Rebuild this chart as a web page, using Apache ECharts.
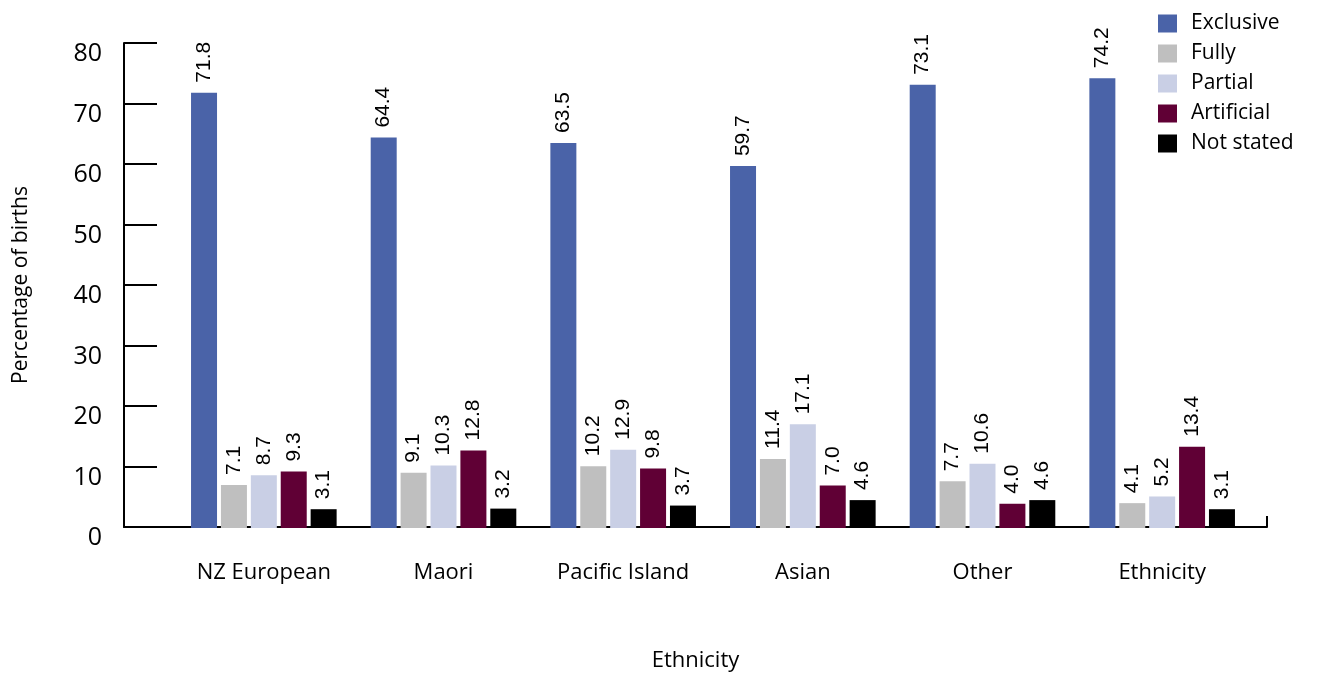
<!DOCTYPE html>
<html>
<head>
<meta charset="utf-8">
<title>Breastfeeding status by ethnicity</title>
<script src="https://cdn.jsdelivr.net/npm/echarts@6/dist/echarts.min.js"></script>
<style>
  html, body { margin: 0; padding: 0; background: #ffffff; }
  #chart { width: 1317px; height: 677px; }
</style>
</head>
<body>
<div id="chart"></div>
<script>
// Ethnic groups along the horizontal axis
const categories = ['NZ European', 'Maori', 'Pacific Island', 'Asian', 'Other', 'Ethnicity'];

// Percentage of births per feeding status
const exclusive  = [71.8, 64.4, 63.5, 59.7, 73.1, 74.2];
const fully      = [7.1, 9.1, 10.2, 11.4, 7.7, 4.1];
const partial    = [8.7, 10.3, 12.9, 17.1, 10.6, 5.2];
const artificial = [9.3, 12.8, 9.8, 7.0, 4.0, 13.4];
const notStated  = [3.1, 3.2, 3.7, 4.6, 4.6, 3.1];

const seriesNames = ['Exclusive', 'Fully', 'Partial', 'Artificial', 'Not stated'];
const seriesColors = ['#4a63a8', '#bfbfbf', '#c9cfe5', '#600035', '#000000'];
const seriesValues = [exclusive, fully, partial, artificial, notStated];

const uiFont = '"Open Sans", "Noto Sans", sans-serif';
const numFont = '"Liberation Sans", Arial, sans-serif';

const chart = echarts.init(document.getElementById('chart'), null, { renderer: 'canvas' });

const option = {
  backgroundColor: '#ffffff',
  animation: false,
  legend: {
    orient: 'vertical',
    left: 1153,
    top: 8,
    itemWidth: 19,
    itemHeight: 18,
    itemGap: 9,
    icon: 'rect',
    data: seriesNames,
    textStyle: { fontFamily: uiFont, fontSize: 21, color: '#000', padding: [0, 0, 0, 9] }
  },
  grid: [
    // frame holding the value axis and the long baseline
    { left: 124, right: 50, top: 43, bottom: 149, containLabel: false },
    // plotting area for the grouped bars
    { left: 174, right: 65, top: 43, bottom: 149, containLabel: false }
  ],
  xAxis: [
    {
      gridIndex: 0,
      type: 'value',
      min: 0, max: 1, interval: 1,
      name: 'Ethnicity',
      nameLocation: 'middle',
      nameGap: 123,
      nameTextStyle: { fontFamily: uiFont, fontSize: 22, color: '#000' },
      axisLine: { show: true, lineStyle: { color: '#000', width: 2 } },
      axisTick: { show: true, inside: true, length: 11, lineStyle: { color: '#000', width: 2 } },
      axisLabel: { show: false },
      splitLine: { show: false }
    },
    {
      gridIndex: 1,
      type: 'category',
      data: categories,
      axisLine: { show: false },
      axisTick: { show: false },
      axisLabel: { fontFamily: uiFont, fontSize: 22, color: '#000', margin: 34 },
      splitLine: { show: false }
    }
  ],
  yAxis: [
    {
      gridIndex: 0,
      type: 'value',
      min: 0, max: 80, interval: 10,
      name: 'Percentage of births',
      nameLocation: 'middle',
      nameGap: 92,
      nameTextStyle: { fontFamily: uiFont, fontSize: 21, color: '#000' },
      axisLine: { show: true, lineStyle: { color: '#000', width: 2 } },
      axisTick: { show: true, inside: true, length: 33, lineStyle: { color: '#000', width: 2 } },
      axisLabel: {
        margin: 22,
        formatter: '{n|{value}}',
        rich: {
          n: { fontFamily: uiFont, fontSize: 25, color: '#000', padding: [22, 0, 0, 0] }
        }
      },
      splitLine: { show: false }
    },
    {
      gridIndex: 1,
      type: 'value',
      min: 0, max: 80, interval: 10,
      show: false
    }
  ],
  series: seriesNames.map((name, i) => ({
    name: name,
    type: 'bar',
    xAxisIndex: 1,
    yAxisIndex: 1,
    data: seriesValues[i],
    barWidth: 26,
    barGap: '15%',
    itemStyle: { color: seriesColors[i] },
    label: {
      show: true,
      position: 'top',
      rotate: 90,
      align: 'left',
      verticalAlign: 'middle',
      distance: 10,
      fontFamily: numFont,
      fontSize: 21,
      color: '#000',
      formatter: p => p.value.toFixed(1)
    }
  }))
};

chart.setOption(option);
</script>
</body>
</html>
